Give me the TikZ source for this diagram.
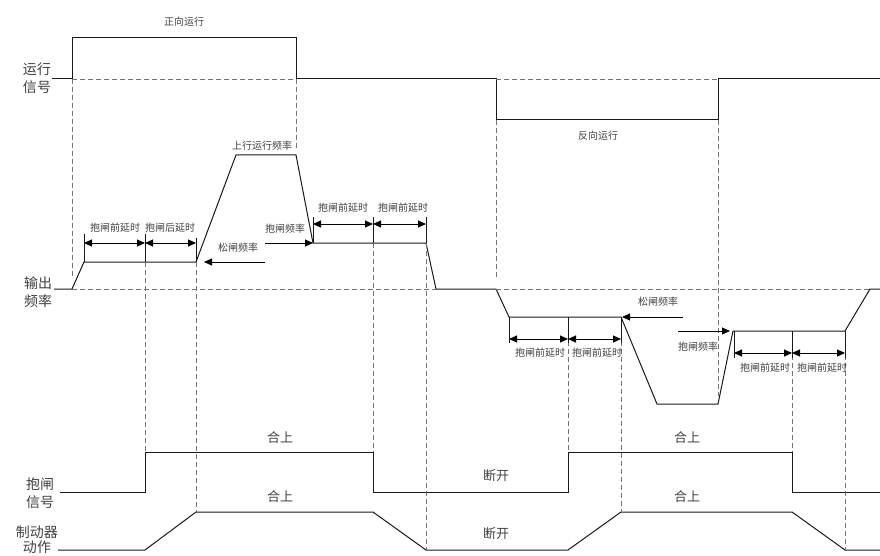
\documentclass[tikz,border=0pt]{standalone}
\usepackage{fontspec}
\setmainfont{Noto Sans CJK SC}
\usetikzlibrary{arrows.meta}
\begin{document}
\begin{tikzpicture}[x=1pt,y=-1pt,
  sig/.style={draw=black!90, line width=1pt},
  dsh/.style={draw=black!55, line width=0.9pt, dash pattern=on 5pt off 3pt},
  tick/.style={draw=black!90, line width=1pt},
  dimarr/.style={draw=black, line width=1pt, {Triangle[length=8pt,width=7pt]}-{Triangle[length=8pt,width=7pt]}},
  onearr/.style={draw=black, line width=1pt, -{Triangle[length=8pt,width=7pt]}},
  small/.style={font=\fontsize{10}{12}\selectfont, text=black!75, inner sep=0pt},
  big/.style={font=\fontsize{14}{17}\selectfont, text=black!75, inner sep=0pt},
  mid/.style={font=\fontsize{13}{15}\selectfont, text=black!75, inner sep=0pt}]
\useasboundingbox (0,0) rectangle (880,556);

% ---------- run signal ----------
\draw[sig] (52,79) -- (72,79) -- (72,38) -- (296,38) -- (296,79) -- (496,79) -- (496,120) -- (718,120) -- (718,79) -- (880,79);
\draw[dsh] (72,79) -- (296,79);
\draw[dsh] (496,79) -- (718,79);

% ---------- output frequency ----------
\draw[sig] (54,289) -- (72,289) -- (84,262) -- (196,262) -- (236,155) -- (296,155) -- (313,243) -- (426,243) -- (436,289) -- (496,289)
  -- (509,317) -- (621,317) -- (657,404) -- (718,404) -- (733,331) -- (845,331) -- (870,289) -- (880,289);
\draw[dsh] (72,289) -- (436,289);
\draw[dsh] (496,289) -- (870,289);

% ---------- brake signal ----------
\draw[sig] (60,492) -- (145,492) -- (145,452) -- (373,452) -- (373,492) -- (568,492) -- (568,452) -- (792,452) -- (792,492) -- (880,492);

% ---------- brake action ----------
\draw[sig] (58,550) -- (145,550) -- (196,512) -- (373,512) -- (426,550) -- (568,550) -- (621,512) -- (792,512) -- (845,550) -- (880,550);

% ---------- vertical dashed guides ----------
\draw[dsh] (72,79) -- (72,276);
\draw[dsh] (296,79) -- (296,148);
\draw[dsh] (496,120) -- (496,277);
\draw[dsh] (718,120) -- (718,396);
\draw[dsh] (145,262) -- (145,452);
\draw[dsh] (196,262) -- (196,512);
\draw[dsh] (373,243) -- (373,452);
\draw[dsh] (426,243) -- (426,550);
\draw[dsh] (568,317) -- (568,452);
\draw[dsh] (621,317) -- (621,512);
\draw[dsh] (792,331) -- (792,452);
\draw[dsh] (845,331) -- (845,550);

% ---------- dimension ticks and arrows ----------
\draw[tick] (84,234) -- (84,262) (145,234) -- (145,262) (196,238) -- (196,262);
\draw[dimarr] (84,243) -- (145,243);
\draw[dimarr] (145,243) -- (196,243);

\draw[tick] (313,217) -- (313,243) (373,217) -- (373,243) (426,217) -- (426,243);
\draw[dimarr] (313,224) -- (373,224);
\draw[dimarr] (373,224) -- (426,224);

\draw[tick] (509,317) -- (509,343) (568,317) -- (568,343) (621,317) -- (621,343);
\draw[dimarr] (509,339) -- (568,339);
\draw[dimarr] (568,339) -- (621,339);

\draw[tick] (734,331) -- (734,358) (792,331) -- (792,358) (845,331) -- (845,358);
\draw[dimarr] (734,353) -- (792,353);
\draw[dimarr] (792,353) -- (845,353);

% ---------- single arrows ----------
\coordinate (s1a) at (265,262); \coordinate (s1b) at (204,262);
\coordinate (h1a) at (265,243); \coordinate (h1b) at (313,243);
\coordinate (s2a) at (683,317); \coordinate (s2b) at (622,317);
\coordinate (h2a) at (678,331); \coordinate (h2b) at (730,331);
\draw[onearr] (s1a) -- (s1b);
\draw[onearr] (h1a) -- (h1b);
\draw[onearr] (s2a) -- (s2b);
\draw[onearr] (h2a) -- (h2b);

% ---------- texts ----------
\node[small] (fwd) at (184,22) {正向运行};
\node[small] (rev) at (598,136) {反向运行};
\node[big] (l1a) at (37,69) {运行};
\node[big] (l1b) at (37,87) {信号};
\node[big] (l2a) at (38,283) {输出};
\node[big] (l2b) at (38,301) {频率};
\node[big] (l3a) at (40,484) {抱闸};
\node[big] (l3b) at (40,502) {信号};
\node[big] (l4a) at (37,532) {制动器};
\node[big] (l4b) at (37,547) {动作};

\node[small] (upf) at (262,146) {上行运行频率};
\node[small] (d1) at (115,228) {抱闸前延时};
\node[small] (d2) at (170,228) {抱闸后延时};
\node[small] (rel1) at (238,248) {松闸频率};
\node[small] (hold1) at (285,229) {抱闸频率};
\node[small] (d3) at (343,208) {抱闸前延时};
\node[small] (d4) at (403,208) {抱闸前延时};
\node[small] (d5) at (540,353) {抱闸前延时};
\node[small] (d6) at (597,353) {抱闸前延时};
\node[small] (rel2) at (658,302) {松闸频率};
\node[small] (hold2) at (698,347) {抱闸频率};
\node[small] (d7) at (765,368) {抱闸前延时};
\node[small] (d8) at (822,368) {抱闸前延时};

\node[mid] (on1) at (280,438) {合上};
\node[mid] (on2) at (280,497) {合上};
\node[mid] (on3) at (687,438) {合上};
\node[mid] (on4) at (687,497) {合上};
\node[mid] (off1) at (496,476) {断开};
\node[mid] (off2) at (496,534) {断开};
\end{tikzpicture}
\end{document}
